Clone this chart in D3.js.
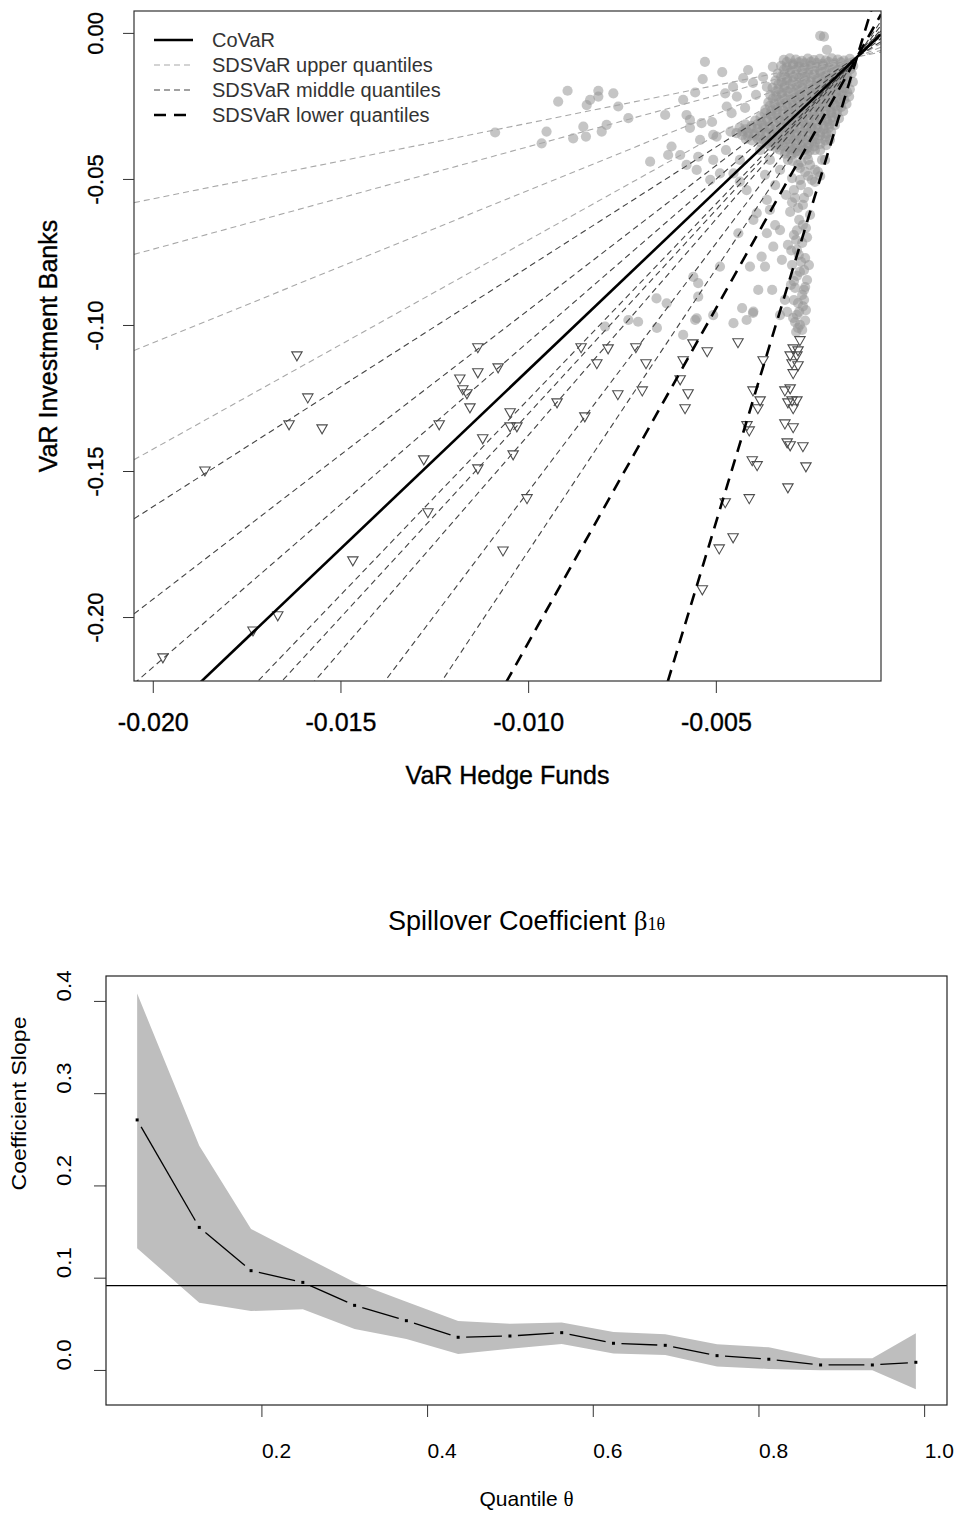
<!DOCTYPE html>
<html>
<head>
<meta charset="utf-8">
<script src="https://cdn.jsdelivr.net/npm/d3@7"></script>
<style>
  body { margin: 0; background: #fff; }
  svg { display: block; font-family: "Liberation Sans", Arial, Helvetica, sans-serif; }
</style>
</head>
<body>
<div id="chart"></div>
<script>
// ---- top panel data: VaR hedge funds (x) vs VaR investment banks (y) ----
// ordinary days (grey dots)
const dotVaR = [
  [-0.00319,-0.0092],[-0.00303,-0.0087],[-0.00287,-0.0091],[-0.00271,-0.0096],[-0.00255,-0.0088],[-0.00239,-0.0093],[-0.00223,-0.0089],[-0.00207,-0.0094],[-0.00191,-0.0087],[-0.00175,-0.0091],[-0.00159,-0.0095],[-0.00143,-0.0089],
  [-0.00326,-0.0113],[-0.00311,-0.0118],[-0.00294,-0.0111],[-0.00279,-0.0116],[-0.00263,-0.0120],[-0.00247,-0.0112],[-0.00231,-0.0117],[-0.00215,-0.0113],[-0.00199,-0.0119],[-0.00183,-0.0111],[-0.00167,-0.0116],[-0.00150,-0.0120],[-0.00134,-0.0113],
  [-0.00335,-0.0139],[-0.00318,-0.0144],[-0.00302,-0.0137],[-0.00286,-0.0142],[-0.00270,-0.0146],[-0.00254,-0.0138],[-0.00238,-0.0143],[-0.00222,-0.0140],[-0.00206,-0.0145],[-0.00190,-0.0137],[-0.00173,-0.0142],[-0.00157,-0.0146],[-0.00138,-0.0139],
  [-0.00341,-0.0163],[-0.00325,-0.0168],[-0.00310,-0.0162],[-0.00294,-0.0167],[-0.00278,-0.0171],[-0.00262,-0.0163],[-0.00246,-0.0168],[-0.00230,-0.0164],[-0.00214,-0.0169],[-0.00198,-0.0162],[-0.00182,-0.0167],[-0.00166,-0.0171],[-0.00150,-0.0164],[-0.00135,-0.0168],
  [-0.00349,-0.0188],[-0.00333,-0.0193],[-0.00317,-0.0187],[-0.00301,-0.0192],[-0.00285,-0.0196],[-0.00269,-0.0188],[-0.00253,-0.0193],[-0.00237,-0.0189],[-0.00221,-0.0194],[-0.00205,-0.0187],[-0.00189,-0.0192],[-0.00173,-0.0196],[-0.00157,-0.0189],[-0.00143,-0.0193],
  [-0.00355,-0.0213],[-0.00339,-0.0218],[-0.00323,-0.0212],[-0.00307,-0.0217],[-0.00291,-0.0221],[-0.00275,-0.0213],[-0.00259,-0.0218],[-0.00243,-0.0214],[-0.00227,-0.0219],[-0.00211,-0.0212],[-0.00195,-0.0217],[-0.00179,-0.0221],[-0.00162,-0.0214],[-0.00145,-0.0218],
  [-0.00360,-0.0238],[-0.00344,-0.0243],[-0.00328,-0.0237],[-0.00312,-0.0242],[-0.00296,-0.0246],[-0.00280,-0.0238],[-0.00264,-0.0243],[-0.00248,-0.0239],[-0.00232,-0.0244],[-0.00216,-0.0237],[-0.00200,-0.0242],[-0.00184,-0.0246],[-0.00168,-0.0239],[-0.00152,-0.0243],
  [-0.00368,-0.0263],[-0.00352,-0.0268],[-0.00336,-0.0262],[-0.00320,-0.0267],[-0.00304,-0.0271],[-0.00288,-0.0263],[-0.00272,-0.0268],[-0.00256,-0.0264],[-0.00240,-0.0269],[-0.00224,-0.0262],[-0.00208,-0.0267],[-0.00192,-0.0271],[-0.00176,-0.0264],[-0.00161,-0.0268],
  [-0.00381,-0.0288],[-0.00365,-0.0293],[-0.00349,-0.0287],[-0.00333,-0.0292],[-0.00317,-0.0296],[-0.00301,-0.0288],[-0.00285,-0.0293],[-0.00269,-0.0289],[-0.00253,-0.0294],[-0.00237,-0.0287],[-0.00221,-0.0292],[-0.00205,-0.0296],[-0.00189,-0.0289],[-0.00172,-0.0293],
  [-0.00421,-0.0313],[-0.00405,-0.0318],[-0.00389,-0.0312],[-0.00373,-0.0317],[-0.00357,-0.0321],[-0.00341,-0.0313],[-0.00325,-0.0318],[-0.00309,-0.0314],[-0.00293,-0.0319],[-0.00277,-0.0312],[-0.00261,-0.0317],[-0.00245,-0.0321],[-0.00229,-0.0314],[-0.00213,-0.0318],[-0.00197,-0.0312],[-0.00183,-0.0316],
  [-0.00461,-0.0338],[-0.00445,-0.0343],[-0.00429,-0.0337],[-0.00413,-0.0342],[-0.00397,-0.0346],[-0.00381,-0.0338],[-0.00365,-0.0343],[-0.00349,-0.0339],[-0.00333,-0.0344],[-0.00317,-0.0337],[-0.00301,-0.0342],[-0.00285,-0.0346],[-0.00269,-0.0339],[-0.00253,-0.0343],[-0.00237,-0.0337],[-0.00221,-0.0341],[-0.00205,-0.0345],[-0.00193,-0.0339],
  [-0.00420,-0.0363],[-0.00404,-0.0368],[-0.00388,-0.0362],[-0.00372,-0.0367],[-0.00356,-0.0371],[-0.00340,-0.0363],[-0.00324,-0.0368],[-0.00308,-0.0364],[-0.00292,-0.0369],[-0.00276,-0.0362],[-0.00260,-0.0367],[-0.00244,-0.0371],[-0.00228,-0.0364],[-0.00208,-0.0368],
  [-0.00355,-0.0388],[-0.00339,-0.0393],[-0.00322,-0.0387],[-0.00306,-0.0392],[-0.00290,-0.0396],[-0.00273,-0.0388],[-0.00256,-0.0393],[-0.00238,-0.0389],
  [-0.00316,-0.0413],[-0.00299,-0.0418],[-0.00283,-0.0412],[-0.00257,-0.0417],
  [-0.00296,-0.0438],[-0.00272,-0.0443],
  [-0.00311,-0.0100],[-0.00295,-0.0105],[-0.00279,-0.0101],[-0.00263,-0.0104],[-0.00247,-0.0099],[-0.00231,-0.0103],[-0.00215,-0.0106],[-0.00199,-0.0100],[-0.00183,-0.0104],[-0.00167,-0.0101],[-0.00151,-0.0105],
  [-0.00318,-0.0125],[-0.00302,-0.0130],[-0.00286,-0.0126],[-0.00270,-0.0129],[-0.00254,-0.0124],[-0.00238,-0.0128],[-0.00222,-0.0131],[-0.00206,-0.0125],[-0.00190,-0.0129],[-0.00174,-0.0126],[-0.00158,-0.0130],[-0.00142,-0.0125],
  [-0.00326,-0.0150],[-0.00310,-0.0155],[-0.00294,-0.0151],[-0.00278,-0.0154],[-0.00262,-0.0149],[-0.00246,-0.0153],[-0.00230,-0.0156],[-0.00214,-0.0150],[-0.00198,-0.0154],[-0.00182,-0.0151],[-0.00166,-0.0155],[-0.00150,-0.0150],
  [-0.00333,-0.0175],[-0.00317,-0.0180],[-0.00301,-0.0176],[-0.00285,-0.0179],[-0.00269,-0.0174],[-0.00253,-0.0178],[-0.00237,-0.0181],[-0.00221,-0.0175],[-0.00205,-0.0179],[-0.00189,-0.0176],[-0.00173,-0.0180],[-0.00157,-0.0175],
  [-0.00341,-0.0200],[-0.00325,-0.0205],[-0.00309,-0.0201],[-0.00293,-0.0204],[-0.00277,-0.0199],[-0.00261,-0.0203],[-0.00245,-0.0206],[-0.00229,-0.0200],[-0.00213,-0.0204],[-0.00197,-0.0201],[-0.00181,-0.0205],[-0.00165,-0.0200],[-0.00150,-0.0203],
  [-0.00348,-0.0225],[-0.00332,-0.0230],[-0.00316,-0.0226],[-0.00300,-0.0229],[-0.00284,-0.0224],[-0.00268,-0.0228],[-0.00252,-0.0231],[-0.00236,-0.0225],[-0.00220,-0.0229],[-0.00204,-0.0226],[-0.00188,-0.0230],[-0.00172,-0.0225],[-0.00158,-0.0228],
  [-0.00356,-0.0250],[-0.00340,-0.0255],[-0.00324,-0.0251],[-0.00308,-0.0254],[-0.00292,-0.0249],[-0.00276,-0.0253],[-0.00260,-0.0256],[-0.00244,-0.0250],[-0.00228,-0.0254],[-0.00212,-0.0251],[-0.00196,-0.0255],[-0.00180,-0.0250],[-0.00166,-0.0253],
  [-0.00370,-0.0275],[-0.00354,-0.0280],[-0.00338,-0.0276],[-0.00322,-0.0279],[-0.00306,-0.0274],[-0.00290,-0.0278],[-0.00274,-0.0281],[-0.00258,-0.0275],[-0.00242,-0.0279],[-0.00226,-0.0276],[-0.00210,-0.0280],[-0.00194,-0.0275],[-0.00178,-0.0278],
  [-0.00395,-0.0300],[-0.00379,-0.0305],[-0.00363,-0.0301],[-0.00347,-0.0304],[-0.00331,-0.0299],[-0.00315,-0.0303],[-0.00299,-0.0306],[-0.00283,-0.0300],[-0.00267,-0.0304],[-0.00251,-0.0301],[-0.00235,-0.0305],[-0.00219,-0.0300],[-0.00203,-0.0303],[-0.00188,-0.0301],
  [-0.00437,-0.0325],[-0.00421,-0.0330],[-0.00405,-0.0326],[-0.00389,-0.0329],[-0.00373,-0.0324],[-0.00357,-0.0328],[-0.00341,-0.0331],[-0.00325,-0.0325],[-0.00309,-0.0329],[-0.00293,-0.0326],[-0.00277,-0.0330],[-0.00261,-0.0325],[-0.00245,-0.0328],[-0.00229,-0.0326],[-0.00213,-0.0330],[-0.00199,-0.0325],
  [-0.00430,-0.0350],[-0.00414,-0.0355],[-0.00398,-0.0351],[-0.00382,-0.0354],[-0.00366,-0.0349],[-0.00350,-0.0353],[-0.00334,-0.0356],[-0.00318,-0.0350],[-0.00302,-0.0354],[-0.00286,-0.0351],[-0.00270,-0.0355],[-0.00254,-0.0350],[-0.00238,-0.0353],[-0.00222,-0.0351],[-0.00207,-0.0355],
  [-0.00380,-0.0375],[-0.00364,-0.0380],[-0.00348,-0.0376],[-0.00332,-0.0379],[-0.00316,-0.0374],[-0.00300,-0.0378],[-0.00284,-0.0381],[-0.00268,-0.0375],[-0.00252,-0.0379],[-0.00236,-0.0376],[-0.00222,-0.0380],
  [-0.00330,-0.0400],[-0.00314,-0.0405],[-0.00298,-0.0401],[-0.00282,-0.0404],[-0.00266,-0.0399],[-0.00250,-0.0403],
  [-0.01088,-0.0341],[-0.00951,-0.0338],[-0.00964,-0.0378],[-0.00920,-0.0235],[-0.00895,-0.0198],[-0.00844,-0.0247],[-0.00835,-0.0229],[-0.00813,-0.0198],[-0.00813,-0.0218],[-0.00773,-0.0207],[-0.00760,-0.0252],[-0.00733,-0.0292],[-0.00853,-0.0321],[-0.00880,-0.0361],[-0.00846,-0.0355],[-0.00804,-0.0338],[-0.00791,-0.0315],[-0.00635,-0.0281],[-0.00587,-0.0229],[-0.00555,-0.0204],[-0.00535,-0.0158],[-0.00578,-0.0281],[-0.00569,-0.0298],[-0.00538,-0.0309],[-0.00507,-0.0349],[-0.00498,-0.0355],[-0.00475,-0.0207],[-0.00444,-0.0218],[-0.00427,-0.0155],[-0.00471,-0.0252],[-0.00458,-0.0275],
  [-0.00618,-0.0389],[-0.00627,-0.0418],[-0.00675,-0.0441],[-0.00595,-0.0418],[-0.00578,-0.0452],[-0.00547,-0.0424],[-0.00551,-0.0469],[-0.00507,-0.0435],[-0.00489,-0.0481],[-0.00515,-0.0503],[-0.00453,-0.0481],[-0.00436,-0.0509],[-0.00418,-0.0538],[-0.00391,-0.0617],[-0.00400,-0.0640],[-0.00364,-0.0572],[-0.00364,-0.0686],[-0.00329,-0.0675],[-0.00347,-0.0732],[-0.00378,-0.0766],[-0.00369,-0.0800],[-0.00409,-0.0800],[-0.00440,-0.0686],[-0.00489,-0.0800],[-0.00560,-0.0835],[-0.00547,-0.0857],[-0.00547,-0.0903],[-0.00658,-0.0909],[-0.00631,-0.0926],[-0.00733,-0.0983],[-0.00707,-0.0989],[-0.00795,-0.1006],[-0.00453,-0.0994],[-0.00418,-0.0983],[-0.00400,-0.0954],[-0.00387,-0.0880],[-0.00551,-0.0977],[-0.00507,-0.0966],
  [-0.00212,-0.0013],[-0.00204,-0.0058],[-0.00222,-0.0010],
  [-0.00657,-0.1010],[-0.00587,-0.1034],[-0.00555,-0.0983],[-0.00430,-0.0942],[-0.00401,-0.0959],
  [-0.00236,-0.0401],[-0.00217,-0.0435],[-0.00228,-0.0476],[-0.00206,-0.0384],[-0.00249,-0.0452],[-0.00244,-0.0503],[-0.00196,-0.0366],[-0.00329,-0.0469],[-0.00356,-0.0435],[-0.00382,-0.0401],[-0.00342,-0.0521],[-0.00369,-0.0486],[-0.00374,-0.0151],[-0.00348,-0.0116],[-0.00401,-0.0171],[-0.00364,-0.0185],[-0.00454,-0.0185],
  [-0.00281,-0.0452],[-0.00262,-0.0476],[-0.00297,-0.0497],[-0.00273,-0.0521],[-0.00254,-0.0545],[-0.00289,-0.0565],[-0.00268,-0.0589],[-0.00302,-0.0613],[-0.00278,-0.0640],[-0.00260,-0.0668],[-0.00292,-0.0692],[-0.00270,-0.0719],[-0.00284,-0.0743],[-0.00262,-0.0771],[-0.00297,-0.0795],[-0.00276,-0.0818],[-0.00257,-0.0846],[-0.00289,-0.0873],[-0.00270,-0.0897],[-0.00281,-0.0925],[-0.00260,-0.0949],[-0.00294,-0.0976],[-0.00276,-0.1000],[-0.00286,-0.1024],[-0.00265,-0.0914],[-0.00300,-0.0863],[-0.00252,-0.0795],[-0.00308,-0.0726],[-0.00249,-0.0623],[-0.00313,-0.0555],
  [-0.00273,-0.0784],[-0.00284,-0.0832],[-0.00265,-0.0880],[-0.00278,-0.0955],[-0.00289,-0.0990],[-0.00270,-0.1017],[-0.00286,-0.0709],[-0.00268,-0.0658],[-0.00281,-0.0599],[-0.00292,-0.0538],[-0.00276,-0.0503],[-0.00310,-0.0955],
  [-0.00276,-0.0462],[-0.00254,-0.0435],[-0.00236,-0.0469],[-0.00308,-0.0435],[-0.00289,-0.0408],[-0.00262,-0.0401],[-0.00222,-0.0401],[-0.00209,-0.0435],[-0.00222,-0.0490],[-0.00254,-0.0490],[-0.00236,-0.0510],
  [-0.00279,-0.0760],[-0.00265,-0.0812],[-0.00292,-0.0850],[-0.00268,-0.0936],[-0.00284,-0.0965],[-0.00262,-0.0985],[-0.00281,-0.1010],[-0.00292,-0.0915],[-0.00262,-0.0870],[-0.00299,-0.0745],[-0.00257,-0.0700],[-0.00284,-0.0676],[-0.00297,-0.0580],[-0.00265,-0.0565],
  [-0.00356,-0.0606],[-0.00342,-0.0658],[-0.00324,-0.0777],[-0.00316,-0.0914],[-0.00329,-0.0966],[-0.00350,-0.0880],
  [-0.00529,-0.0099],[-0.00483,-0.0134],[-0.00414,-0.0127],[-0.00393,-0.0212],[-0.00422,-0.0257],[-0.00510,-0.0305],[-0.00473,-0.0401],[-0.00542,-0.0366],[-0.00569,-0.0325],[-0.00436,-0.0435]
];

// stress days (open triangles)
const stressVaR = [
  [-0.01616,-0.1103],[-0.01134,-0.1075],[-0.01080,-0.1144],[-0.01134,-0.1161],[-0.01182,-0.1182],[-0.01174,-0.1219],[-0.01163,-0.1233],[-0.01155,-0.1281],[-0.01587,-0.1247],[-0.01637,-0.1339],
  [-0.01549,-0.1353],[-0.01237,-0.1339],[-0.01048,-0.1298],[-0.01048,-0.1346],[-0.01030,-0.1346],[-0.01121,-0.1387],[-0.01040,-0.1442],[-0.01278,-0.1459],[-0.01134,-0.1490],[-0.01861,-0.1497],
  [-0.01003,-0.1592],[-0.01267,-0.1640],[-0.01467,-0.1805],[-0.01067,-0.1771],[-0.01667,-0.1993],[-0.01733,-0.2045],[-0.01973,-0.2137],
  [-0.00859,-0.1075],[-0.00787,-0.1079],[-0.00713,-0.1075],[-0.00817,-0.1130],[-0.00686,-0.1130],[-0.00561,-0.1062],[-0.00523,-0.1089],[-0.00441,-0.1058],[-0.00587,-0.1120],
  [-0.00595,-0.1185],[-0.00574,-0.1233],[-0.00582,-0.1284],[-0.00696,-0.1223],[-0.00761,-0.1236],[-0.00923,-0.1264],[-0.00849,-0.1312],[-0.00374,-0.1120],[-0.00401,-0.1223],[-0.00382,-0.1257],
  [-0.00388,-0.1284],[-0.00417,-0.1342],[-0.00411,-0.1360],[-0.00403,-0.1462],[-0.00390,-0.1479],[-0.00475,-0.1606],[-0.00411,-0.1592],[-0.00454,-0.1726],[-0.00491,-0.1764],[-0.00536,-0.1904],
  [-0.00276,-0.1051],[-0.00294,-0.1079],[-0.00281,-0.1086],[-0.00302,-0.1103],[-0.00284,-0.1103],[-0.00297,-0.1130],[-0.00281,-0.1137],[-0.00294,-0.1164],[-0.00316,-0.1223],[-0.00302,-0.1216],
  [-0.00297,-0.1257],[-0.00284,-0.1257],[-0.00308,-0.1264],[-0.00294,-0.1284],[-0.00316,-0.1336],[-0.00294,-0.1349],[-0.00310,-0.1401],[-0.00302,-0.1411],[-0.00268,-0.1414],[-0.00260,-0.1483],
  [-0.00308,-0.1555]
];

// regression lines  ib = alpha + beta * hf
const covarAlpha = [0.00692];
const covarBeta = [12.24];
const upperAlpha = [-0.00502, -0.00388, -0.00176, 0.00064];
const upperBeta = [2.59, 3.51, 5.22, 7.16];
const middleAlpha = [0.00194, 0.00403, 0.00556, 0.00834, 0.00904, 0.01008, 0.01280, 0.01568];
const middleBeta = [8.21, 9.90, 11.14, 13.39, 13.95, 14.79, 16.99, 19.32];
const lowerAlpha = [0.02011, 0.04423];
const lowerBeta = [22.9, 42.4];

const legendLabels = ["CoVaR", "SDSVaR upper quantiles", "SDSVaR middle quantiles", "SDSVaR lower quantiles"];
const xTicksTop = [-0.020, -0.015, -0.010, -0.005];
const yTicksTop = [0.00, -0.05, -0.10, -0.15, -0.20];

// ---- bottom panel data ----
const quantiles = [0.05, 0.125, 0.1875, 0.25, 0.3125, 0.375, 0.4375, 0.5, 0.5625, 0.625, 0.6875, 0.75, 0.8125, 0.875, 0.9375, 0.99];
const slope = [0.271, 0.1545, 0.1076, 0.0949, 0.070, 0.0534, 0.0354, 0.0368, 0.0404, 0.0289, 0.0267, 0.0155, 0.0116, 0.0054, 0.0054, 0.0083];
const slopeUpper = [0.408, 0.243, 0.1527, 0.1238, 0.095, 0.074, 0.053, 0.050, 0.0513, 0.041, 0.0386, 0.0278, 0.0245, 0.0126, 0.0126, 0.0397];
const slopeLower = [0.1318, 0.0729, 0.0639, 0.0657, 0.0444, 0.0336, 0.0173, 0.0231, 0.0282, 0.0177, 0.0162, 0.0036, 0.0011, -0.0004, -0.0004, -0.0209];
const olsSlope = 0.0914;
const xTicksBot = [0.2, 0.4, 0.6, 0.8, 1.0];
const yTicksBot = [0.0, 0.1, 0.2, 0.3, 0.4];

const w = 956;
const h = 1516;
const svg = d3.select("#chart").append("svg").attr("width", w).attr("height", h);
svg.append("rect").attr("width", w).attr("height", h).attr("fill", "#fff");

// ================= top panel =================
const pA = { left: 134, right: 881, top: 11, bottom: 681 };
const xTop = d3.scaleLinear().domain([-0.0205, -0.0006]).range([pA.left, pA.right]);
const yTop = d3.scaleLinear().domain([-0.2219, 0.0075]).range([pA.bottom, pA.top]);

svg.append("clipPath").attr("id", "clipTop")
  .append("rect")
  .attr("x", pA.left).attr("y", pA.top)
  .attr("width", pA.right - pA.left).attr("height", pA.bottom - pA.top);

const gTop = svg.append("g").attr("clip-path", "url(#clipTop)");

gTop.selectAll("circle.dot")
  .data(dotVaR)
  .enter()
  .append("circle")
  .attr("class", "dot")
  .attr("cx", (d) => xTop(d[0]))
  .attr("cy", (d) => yTop(d[1]))
  .attr("r", 5.1)
  .attr("fill", "#969696")
  .attr("fill-opacity", 0.55);

gTop.selectAll("path.tri")
  .data(stressVaR)
  .enter()
  .append("path")
  .attr("class", "tri")
  .attr("d", (d) => {
    const x = xTop(d[0]);
    const y = yTop(d[1]);
    return "M" + (x - 5.2) + "," + (y - 3.2) + "L" + (x + 5.2) + "," + (y - 3.2) + "L" + x + "," + (y + 5.8) + "Z";
  })
  .attr("fill", "none")
  .attr("stroke", "#4d4d4d")
  .attr("stroke-width", 1.1);

const xd = xTop.domain();
function drawLines(alphas, betas, color, width, dash) {
  alphas.forEach((a, i) => {
    const line = d3.line().x((v) => xTop(v)).y((v) => yTop(a + betas[i] * v));
    gTop.append("path")
      .attr("d", line(xd))
      .attr("fill", "none")
      .attr("stroke", color)
      .attr("stroke-width", width)
      .attr("stroke-dasharray", dash);
  });
}
drawLines(upperAlpha, upperBeta, "#a8a8a8", 1.1, "6,4");
drawLines(middleAlpha, middleBeta, "#444", 1.1, "6,4");
drawLines(lowerAlpha, lowerBeta, "#000", 2.6, "12,8");
drawLines(covarAlpha, covarBeta, "#000", 2.6, null);

// box
svg.append("rect")
  .attr("x", pA.left).attr("y", pA.top)
  .attr("width", pA.right - pA.left).attr("height", pA.bottom - pA.top)
  .attr("fill", "none").attr("stroke", "#333").attr("stroke-width", 1.2);

const xAxisTop = svg.append("g")
  .attr("transform", "translate(0," + pA.bottom + ")")
  .call(d3.axisBottom(xTop).tickValues(xTicksTop).tickSize(12).tickFormat((d) => d.toFixed(3)));
xAxisTop.select(".domain").remove();
xAxisTop.selectAll("line").attr("stroke", "#333");
xAxisTop.selectAll("text")
  .attr("y", 50).attr("dy", null)
  .attr("font-size", 25).attr("font-family", "Liberation Sans, Arial, sans-serif")
  .attr("fill", "#000").attr("stroke", "#000").attr("stroke-width", 0.35);

const yAxisTop = svg.append("g")
  .attr("transform", "translate(" + pA.left + ",0)")
  .call(d3.axisLeft(yTop).tickValues(yTicksTop).tickSize(11).tickFormat((d) => d.toFixed(2)));
yAxisTop.select(".domain").remove();
yAxisTop.selectAll("line").attr("stroke", "#333");
yAxisTop.selectAll("text")
  .attr("x", null).attr("dy", null)
  .attr("transform", "translate(-31,0) rotate(-90)")
  .attr("text-anchor", "middle")
  .attr("font-size", 22).attr("font-family", "Liberation Sans, Arial, sans-serif")
  .attr("fill", "#000").attr("stroke", "#000").attr("stroke-width", 0.35);

svg.append("text")
  .attr("x", (pA.left + pA.right) / 2).attr("y", 784)
  .attr("text-anchor", "middle").attr("font-size", 25)
  .attr("stroke", "#000").attr("stroke-width", 0.35)
  .text("VaR Hedge Funds");

svg.append("text")
  .attr("transform", "translate(57," + (pA.top + pA.bottom) / 2 + ") rotate(-90)")
  .attr("text-anchor", "middle").attr("font-size", 25)
  .attr("stroke", "#000").attr("stroke-width", 0.35)
  .text("VaR Investment Banks");

// legend
const legendStyle = [
  { color: "#000", width: 2.6, dash: null },
  { color: "#a8a8a8", width: 1.1, dash: "6,4" },
  { color: "#444", width: 1.1, dash: "6,4" },
  { color: "#000", width: 2.6, dash: "12,8" }
];
const legend = svg.append("g");
legendLabels.forEach((lab, i) => {
  const y = 40 + i * 25;
  legend.append("line")
    .attr("x1", 154).attr("x2", 193).attr("y1", y).attr("y2", y)
    .attr("stroke", legendStyle[i].color)
    .attr("stroke-width", legendStyle[i].width)
    .attr("stroke-dasharray", legendStyle[i].dash);
  legend.append("text")
    .attr("x", 212).attr("y", y + 7)
    .attr("font-size", 20).attr("fill", "#333")
    .text(lab);
});

// ================= bottom panel =================
const pB = { left: 106, right: 947, top: 976, bottom: 1405 };
const xBot = d3.scaleLinear().domain([0.0124, 1.0276]).range([pB.left, pB.right]);
const yBot = d3.scaleLinear().domain([-0.038, 0.427]).range([pB.bottom, pB.top]);

const band = d3.area()
  .x((d, i) => xBot(quantiles[i]))
  .y0((d, i) => yBot(slopeLower[i]))
  .y1((d, i) => yBot(slopeUpper[i]));
svg.append("path").attr("d", band(quantiles)).attr("fill", "#bebebe");

svg.append("line")
  .attr("x1", pB.left).attr("x2", pB.right)
  .attr("y1", yBot(olsSlope)).attr("y2", yBot(olsSlope))
  .attr("stroke", "#000").attr("stroke-width", 1.4);

// coefficient path, drawn R type="b" style (gaps around each point)
const pts = quantiles.map((q, i) => [xBot(q), yBot(slope[i])]);
const gap = 8;
for (let i = 0; i < pts.length - 1; i++) {
  const [x1, y1] = pts[i];
  const [x2, y2] = pts[i + 1];
  const len = Math.hypot(x2 - x1, y2 - y1);
  if (len <= 2 * gap) continue;
  const ux = (x2 - x1) / len;
  const uy = (y2 - y1) / len;
  svg.append("line")
    .attr("x1", x1 + ux * gap).attr("y1", y1 + uy * gap)
    .attr("x2", x2 - ux * gap).attr("y2", y2 - uy * gap)
    .attr("stroke", "#000").attr("stroke-width", 1.3);
}
svg.selectAll("rect.pt")
  .data(pts)
  .enter()
  .append("rect")
  .attr("class", "pt")
  .attr("x", (d) => d[0] - 1.5).attr("y", (d) => d[1] - 1.5)
  .attr("width", 3).attr("height", 3)
  .attr("fill", "#000");

svg.append("rect")
  .attr("x", pB.left).attr("y", pB.top)
  .attr("width", pB.right - pB.left).attr("height", pB.bottom - pB.top)
  .attr("fill", "none").attr("stroke", "#222").attr("stroke-width", 1.2);

const xAxisBot = svg.append("g")
  .attr("transform", "translate(0," + pB.bottom + ")")
  .call(d3.axisBottom(xBot).tickValues(xTicksBot).tickSize(12).tickFormat((d) => d.toFixed(1)));
xAxisBot.select(".domain").remove();
xAxisBot.selectAll("line").attr("stroke", "#333");
xAxisBot.selectAll("text")
  .attr("x", 0).attr("y", 53).attr("dy", null)
  .attr("text-anchor", "start")
  .attr("font-size", 21).attr("font-family", "Liberation Sans, Arial, sans-serif")
  .attr("fill", "#000");

const yAxisBot = svg.append("g")
  .attr("transform", "translate(" + pB.left + ",0)")
  .call(d3.axisLeft(yBot).tickValues(yTicksBot).tickSize(12).tickFormat((d) => d.toFixed(1)));
yAxisBot.select(".domain").remove();
yAxisBot.selectAll("line").attr("stroke", "#333");
yAxisBot.selectAll("text")
  .attr("x", null).attr("dy", null)
  .attr("transform", "translate(-35,0) rotate(-90)")
  .attr("text-anchor", "start")
  .attr("font-size", 20).attr("font-family", "Liberation Sans, Arial, sans-serif")
  .attr("textLength", 31).attr("lengthAdjust", "spacingAndGlyphs")
  .attr("fill", "#000");

svg.append("text")
  .attr("transform", "translate(26," + (pB.top + pB.bottom) / 2 + ") rotate(-90)")
  .attr("text-anchor", "start").attr("font-size", 21)
  .attr("textLength", 174).attr("lengthAdjust", "spacingAndGlyphs")
  .text("Coefficient Slope");

const xLab = svg.append("text")
  .attr("x", (pB.left + pB.right) / 2).attr("y", 1506)
  .attr("text-anchor", "middle").attr("font-size", 21);
xLab.append("tspan").text("Quantile ");
xLab.append("tspan").attr("font-family", "Liberation Serif, Times New Roman, serif").text("θ");

const title = svg.append("text")
  .attr("x", (pB.left + pB.right) / 2).attr("y", 930)
  .attr("text-anchor", "middle").attr("font-size", 27);
title.append("tspan").text("Spillover Coefficient ");
title.append("tspan").attr("font-family", "Liberation Serif, Times New Roman, serif").text("β");
title.append("tspan").attr("font-family", "Liberation Serif, Times New Roman, serif")
  .attr("font-size", 18).text("1θ");
</script>
</body>
</html>
